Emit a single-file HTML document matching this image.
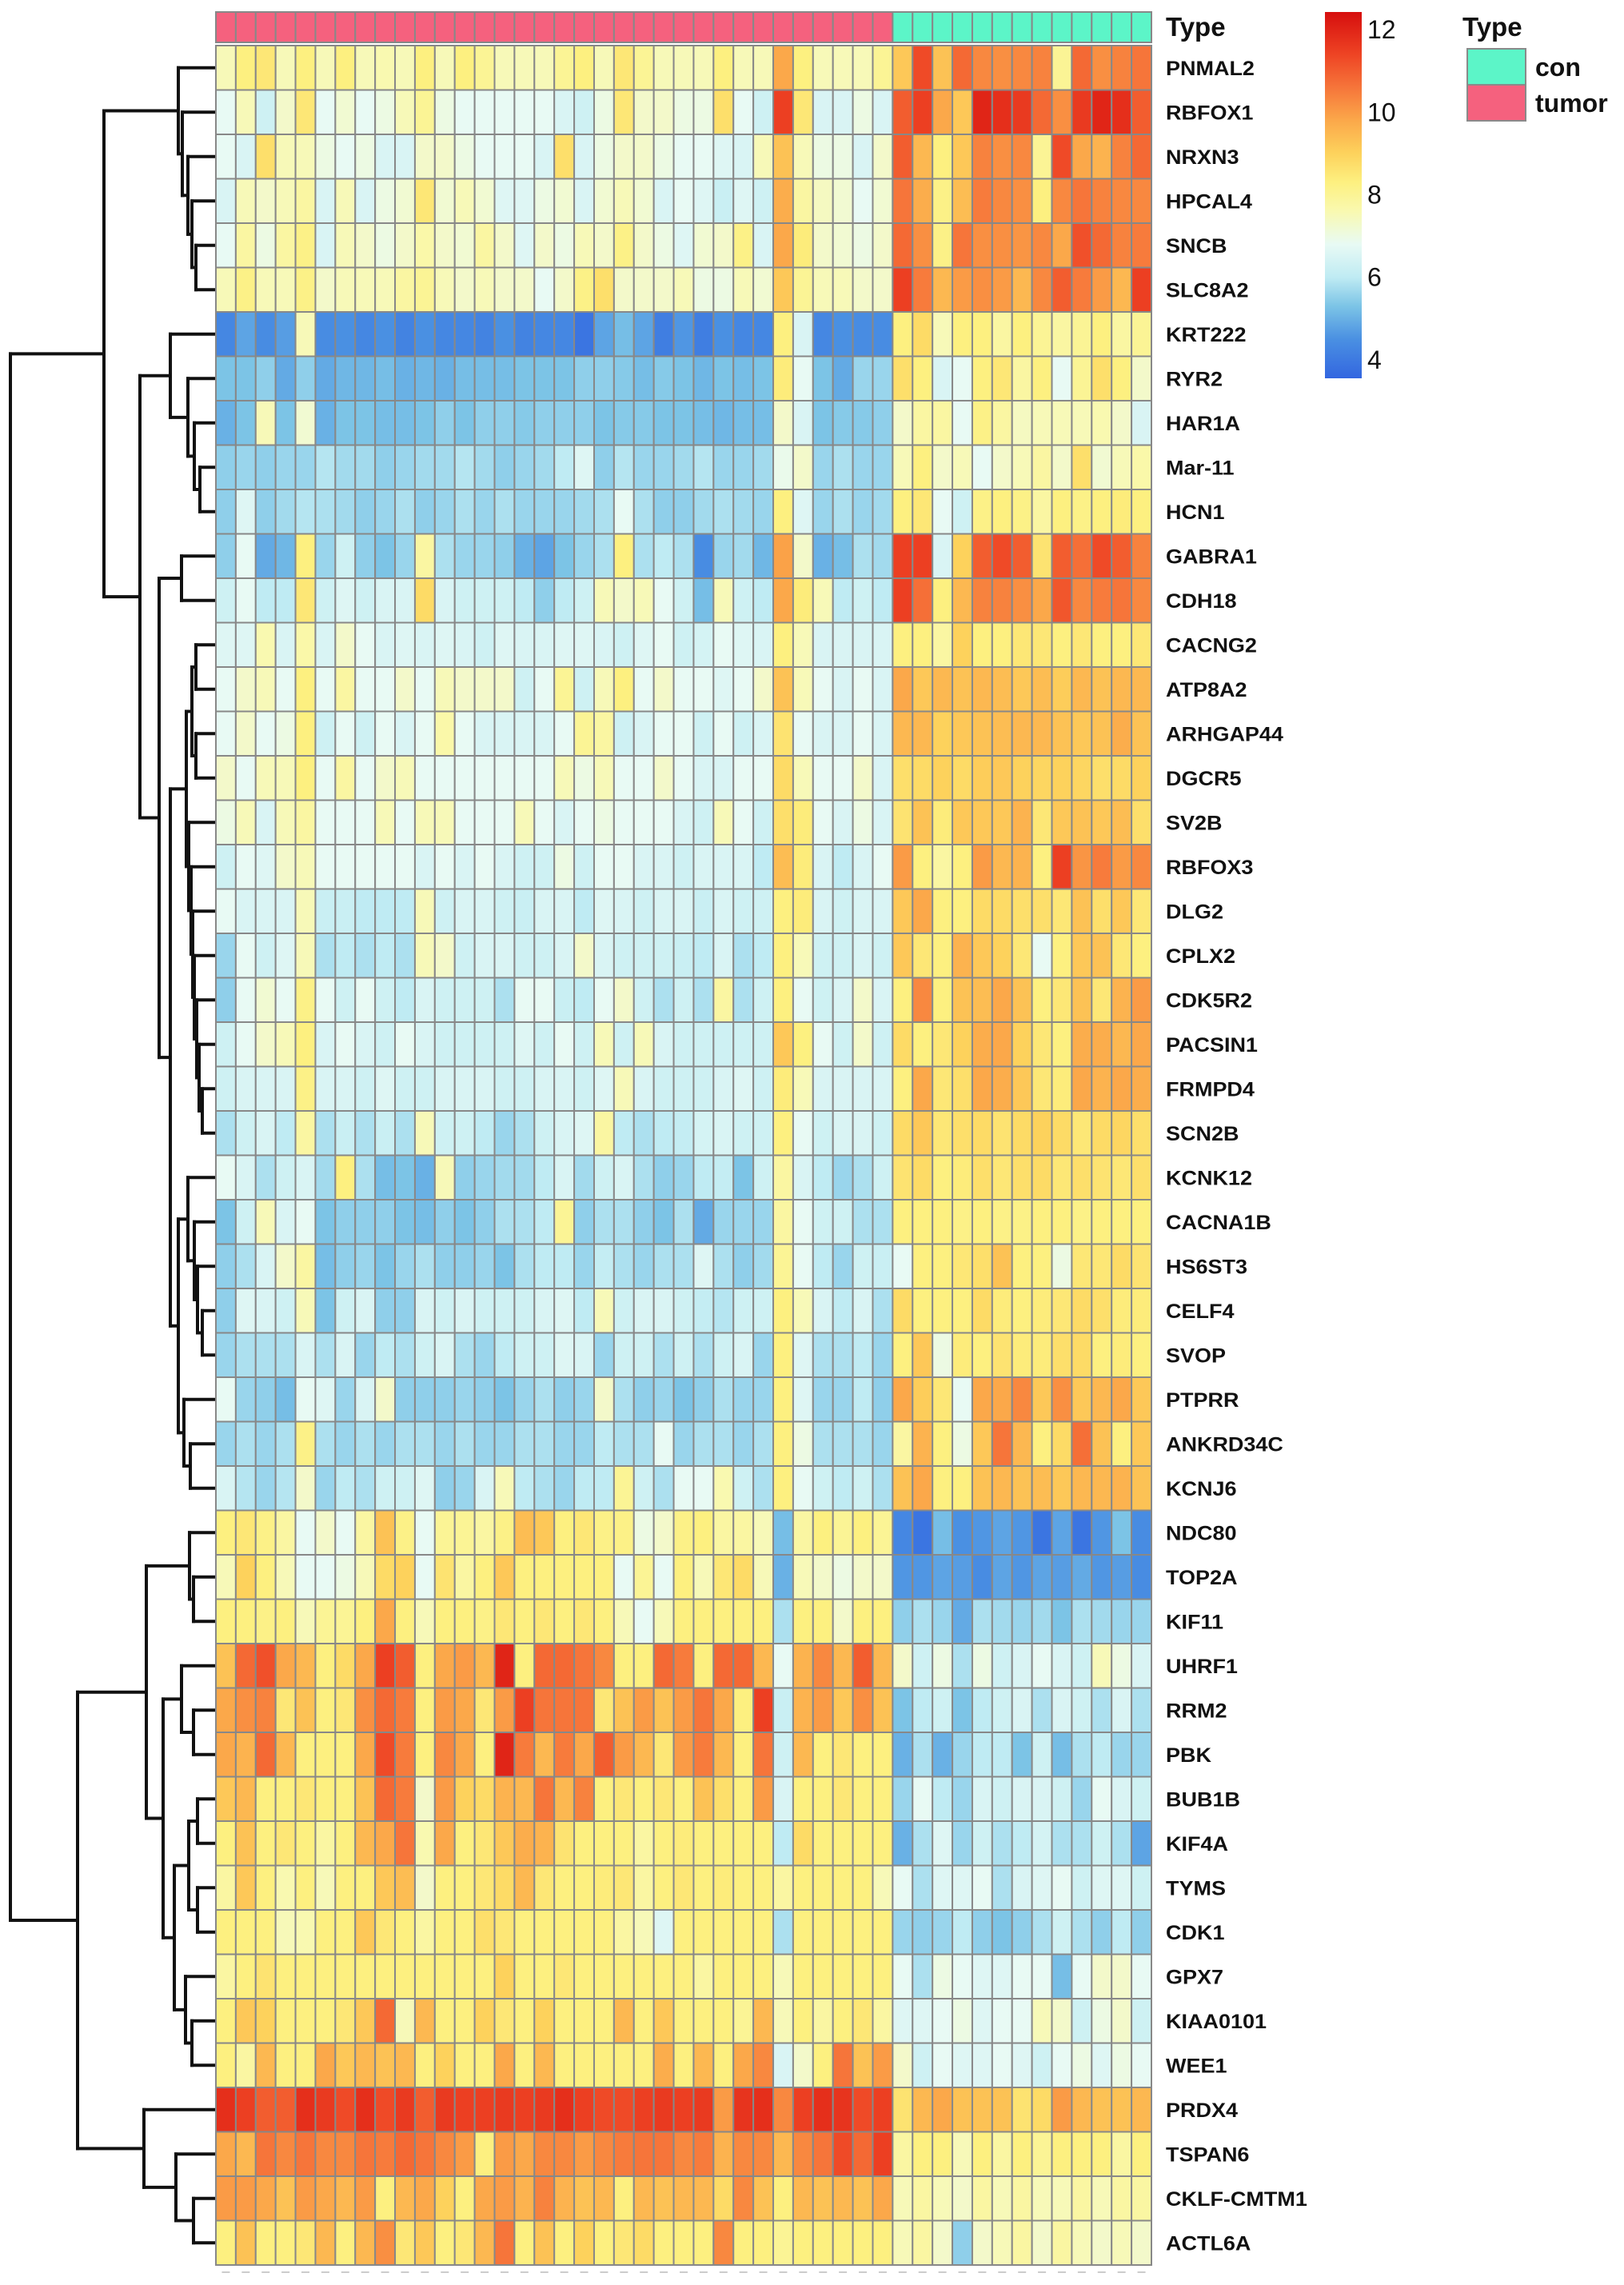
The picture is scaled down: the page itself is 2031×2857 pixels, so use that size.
<!DOCTYPE html>
<html><head><meta charset="utf-8">
<style>
html,body{margin:0;padding:0;background:#fff;}
svg{display:block;}
text{font-family:"Liberation Sans",Arial,sans-serif;}
</style></head>
<body>
<svg id="chart" width="2031" height="2857" viewBox="0 0 2031 2857" xmlns="http://www.w3.org/2000/svg">
<g id="dendro"></g>
<g id="anno"></g>
<g id="cells"></g>
<g id="labels"></g>
<g id="colticks"></g>
<text x="1458" y="45" font-size="33" font-weight="bold" fill="#111">Type</text>
<defs>
<linearGradient id="cbgrad" x1="0" y1="1" x2="0" y2="0"></linearGradient>
</defs>
<rect x="1657" y="15" width="46" height="458" fill="url(#cbgrad)"/>
<g id="cbticks"></g>
<g>
<text x="1829" y="45" font-size="33" font-weight="bold" fill="#111">Type</text>
<rect x="1835" y="61" width="73" height="45" fill="#5CF5C8" stroke="#8a8a8a" stroke-width="2"/>
<rect x="1835" y="106" width="73" height="45" fill="#F5617E" stroke="#8a8a8a" stroke-width="2"/>
<text x="1920" y="95" font-size="32" font-weight="bold" fill="#111">con</text>
<text x="1920" y="140" font-size="32" font-weight="bold" fill="#111">tumor</text>
</g>
</svg>
<script>
const genes = ["PNMAL2","RBFOX1","NRXN3","HPCAL4","SNCB","SLC8A2","KRT222","RYR2","HAR1A","Mar-11","HCN1","GABRA1","CDH18","CACNG2","ATP8A2","ARHGAP44","DGCR5","SV2B","RBFOX3","DLG2","CPLX2","CDK5R2","PACSIN1","FRMPD4","SCN2B","KCNK12","CACNA1B","HS6ST3","CELF4","SVOP","PTPRR","ANKRD34C","KCNJ6","NDC80","TOP2A","KIF11","UHRF1","RRM2","PBK","BUB1B","KIF4A","TYMS","CDK1","GPX7","KIAA0101","WEE1","PRDX4","TSPAN6","CKLF-CMTM1","ACTL6A"];
const sampleTypes = ["tumor","tumor","tumor","tumor","tumor","tumor","tumor","tumor","tumor","tumor","tumor","tumor","tumor","tumor","tumor","tumor","tumor","tumor","tumor","tumor","tumor","tumor","tumor","tumor","tumor","tumor","tumor","tumor","tumor","tumor","tumor","tumor","tumor","tumor","con","con","con","con","con","con","con","con","con","con","con","con","con"];
const colorTicks = [4,6,8,10,12];
const exprTumor = [
[7.5,8.3,8.5,7.5,8.3,7.5,8.3,7.5,7.6,7.5,8.3,7.5,8.3,8,7.5,7.5,7.5,8,8.3,7.5,8.5,8,7.5,7.5,7.5,8.3,7.5,7.5,9.8,8.3,7.5,7.5,7.5,8],
[6.8,7.5,6.3,7.3,8.5,6.8,7.2,6.8,7,7.5,8,7,6.8,6.8,6.8,6.8,6.8,6.5,6.3,7,8.5,7.3,7.3,7,7,8.7,6.8,6.3,11.5,8.5,6.5,6.5,7,6.5],
[6.8,6.5,8.7,7.5,7.5,7,6.8,7,6.5,6.5,7.3,7.3,7,6.8,6.8,6.8,6.5,8.7,6.5,7,7.3,7.3,7,6.8,6.8,6.6,6.5,7.5,9.3,7.5,7,7,6.5,7.3],
[6.5,7.5,7.3,7.5,7.8,6.5,7.5,6.5,7,7.2,8.5,7.2,7.5,7.2,6.6,6.6,7,7.2,6.5,7.2,7.5,7.2,6.5,6.8,6.6,6.2,6.6,6.3,9.7,7.8,7.4,7.2,6.8,7.2],
[6.8,7.8,7,7.8,8.2,6.5,7.5,7.3,7,7.3,7.7,7.3,7.2,7.8,7.3,6.6,7.3,7,7.5,7.3,8.2,7.3,7,6.6,7.2,7.3,8.2,6.5,9.8,8.4,7.3,7.2,7,7.3],
[7.5,8.2,7.5,7.5,8.2,7.3,7.5,7.5,7.5,7.8,8,7.5,7.3,7.5,7.3,7.3,6.8,7.3,8.2,8.7,7.3,7.3,7.3,7.5,7,7,7.5,7.2,9.2,8,7.5,7.5,7.3,7.3],
[4.3,4.8,4.4,4.7,7.5,4.4,4.5,4.3,4.5,4.2,4.5,4.3,4.3,4.2,4.5,4.2,4.3,4.3,3.9,4.8,5.2,4.8,4.1,4.6,4.1,4.5,4.3,4.3,8.3,6.5,4.3,4.5,4.4,4.4],
[5.3,5.3,5.5,4.9,5.5,4.9,5.1,5.1,5.2,5,5.1,5,5.2,5.2,5.2,5.3,5.3,5.3,5.5,5.5,5.4,5.2,5.4,5.3,5.1,5.3,5.2,5.3,8.4,6.8,5.3,4.9,5.6,5.6],
[5,5.3,7.5,5.3,7.2,5,5.3,5.3,5.2,5.2,5.3,5.5,5.3,5.5,5.5,5.4,5.5,5.5,5.5,5.3,5.4,5.4,5.3,5.3,5.2,5.1,5.2,5.2,7.3,6.5,5.3,5.4,5.4,5.5],
[5.5,5.6,5.5,5.6,5.6,5.9,5.7,5.7,5.5,5.6,5.7,5.7,5.9,5.7,5.5,5.6,5.7,6,6.6,5.5,5.9,5.6,5.6,5.7,5.9,5.6,5.6,5.7,6.9,7.3,5.6,5.8,5.6,5.6],
[5.5,6.6,5.5,5.7,5.9,5.8,5.7,5.5,5.6,5.8,5.5,5.6,5.8,5.6,5.8,5.6,5.6,5.6,5.7,5.8,6.8,5.8,5.5,5.5,5.7,5.8,5.7,5.6,8.3,6.6,5.6,5.8,5.6,5.7],
[5.5,6.8,4.9,5.1,8.3,5.6,6.3,5.5,5.3,5.6,7.8,5.8,5.6,5.6,5.5,5,4.8,5.3,5.6,5.8,8.3,5.8,6,5.8,4.4,5.6,5.7,5.1,9.9,7.3,5,5.2,5.8,5.7],
[6.3,6.8,6,6,8.5,6.3,6.6,6.3,6.5,6.5,8.8,6.5,6.3,6.3,6.3,6,5.5,6,6.3,7.5,7.3,7.5,6.8,6.3,5.2,7.5,6.3,6,9.8,8.4,7.5,6,6.3,6],
[6.6,6.6,7.6,6.5,7.7,6.5,7.3,6.8,6.5,6.6,6.5,6.6,6.5,6.3,6.6,6.5,6.5,6.6,6.6,6.5,6.3,6.6,6.8,6.3,6.4,6.8,6.6,6.5,8.3,7.5,6.5,6.5,6.5,6.5],
[6.8,7.3,7.5,6.8,8.3,6.8,7.8,6.8,6.8,7.3,6.8,7.5,7.3,7.3,7.3,6.3,6.8,8,6.3,7.5,8.3,6.8,7.3,6.8,6.8,6.6,6.8,7.3,9.3,7.5,6.8,6.5,6.8,6.5],
[6.8,7.3,6.8,7,8.3,6.3,6.8,6.3,6.8,6.5,6.8,7.7,6.8,6.5,6.5,6.5,6.5,6.8,8,7.8,6.3,6.5,6.8,6.8,6.3,6.8,6.3,6.5,8.6,6.8,6.5,6.5,6.8,6.5],
[7.3,6.8,7.5,7.5,8.3,6.8,7.8,6.8,7.3,7.5,6.8,6.8,6.8,6.8,6.8,6.8,6.8,7.5,7,7.5,6.8,6.8,7.3,6.8,6.5,6.5,6.8,6.8,8.8,7.5,6.8,6.8,7.3,6.5],
[7,7.5,6.5,7.5,7.8,6.8,6.8,6.8,7.5,6.8,7.5,7.5,6.8,6.8,6.8,7.5,6.8,6.5,6.8,7,6.8,6.8,6.8,6.5,6.3,7.5,6.8,6.3,8.7,8.4,6.8,6.5,7,6.5],
[6.3,6.8,6.6,7.3,7.5,6.8,6.8,6.8,6.8,6.8,6.5,6.8,6.5,6.8,6.5,6.3,6.3,7,6.3,6.8,6.8,6.5,6.5,6.3,6.5,6.5,6.5,6,9.4,8.4,6.5,6,6.5,6.8],
[6.8,6.5,6.5,6.5,7.5,6.2,6.2,6,6,6,7.5,6.3,6.5,6.5,6.3,6.2,6.5,6.5,6,6.6,6.5,6.3,6.5,6.5,6.2,6.5,6.3,6.3,8.3,8.4,6.5,6.3,6.5,6.5],
[5.6,6.8,6.3,6.6,7.5,5.8,6,5.8,6,5.8,7.5,7.3,6.3,6.5,6.5,6.3,6.3,6.5,7.3,6.5,6.3,6.3,6.3,6.2,6,6.5,5.8,6,8.3,7.5,6.3,6.3,6.5,6.3],
[5.5,6.8,7.2,6.8,8.2,6.8,6.3,6.8,6.3,6,6.5,6.3,6.3,6.3,5.8,6.8,6.8,6.2,6,6.8,7.3,6.3,5.8,6.3,5.8,7.8,5.8,6.3,8.3,6.8,6.3,6.5,7.3,6.5],
[6.3,6.8,7.3,7.5,8.3,6.5,6.8,6.5,6.3,6.8,6.5,6.3,6.3,6.3,6.3,6.6,6.3,6.8,6.3,7.5,6.3,7.5,6.5,6.3,6.3,6.3,6.3,6.3,9.2,8.3,6.8,6.3,7.3,6.3],
[6.3,6.5,6.5,6.5,8.2,6.5,6.5,6.3,6.6,6.3,6.3,6.5,6.5,6.5,6.3,6.3,6.5,6.5,6.3,6.6,7.5,6.5,6.3,6.3,6.3,6.5,6.6,6.3,8.4,7.5,6.5,6.5,6.5,6.5],
[5.8,6.3,6.5,6,7.8,5.8,6.2,5.8,6.2,5.8,7.5,6.3,6.3,6,5.6,5.8,6.3,6.5,6.6,7.8,6,5.8,6,6.1,6.4,6.5,6.3,6.3,8.3,6.8,6.3,6.5,6.5,6.3],
[6.8,6.5,5.8,6.3,6.5,5.7,8.3,5.8,5.2,5.3,5,7.5,5.5,5.6,5.7,5.7,6,6.5,5.7,6.3,6.5,5.8,5.5,5.6,6,6.1,5.3,6.3,7.8,6.5,6,5.6,5.8,6.3],
[5.3,6.3,7.5,6.5,6.8,5.3,5.5,5.5,5.5,5.3,5.2,5.5,5.3,5.5,5.8,5.8,6,8,5.5,5.8,5.8,5.5,5.3,5.8,4.9,5.6,5.6,5.6,7.8,6.8,6.3,6.3,5.8,5.8],
[5.5,5.8,6.5,7.3,7.8,5.2,5.5,5.6,5.3,5.6,5.8,5.5,5.5,5.6,5.3,5.8,6,6,5.6,6.1,5.8,5.6,5.8,5.8,6.6,5.8,5.5,5.7,8,6.8,6,5.6,6.3,6.2],
[5.5,6.6,6.5,6.3,7.5,5.3,6.3,6.5,5.5,5.5,6.5,6.3,6.5,6.3,6.3,6.3,6.5,6.6,6,7.5,6.3,6.5,6.5,6.3,6.1,5.9,6.3,6.3,8.3,7.5,6.5,6,6.5,5.8],
[5.6,5.8,5.8,5.8,6.5,5.8,6.5,5.6,6,5.8,6.3,6.5,5.8,5.6,6,6.3,6.3,6.6,6.5,5.6,6.3,6.3,5.8,6.3,5.8,6.3,6.5,5.6,8.3,6.6,5.8,5.8,6,5.6],
[6.8,5.6,5.5,5.2,6.8,6.6,5.6,6.5,7.3,5.5,5.5,5.5,5.6,5.5,5.3,5.6,5.8,5.5,5.6,7.3,5.8,5.5,5.6,5.3,5.5,5.8,5.6,5.6,8.3,6.6,5.6,5.6,6,5.5],
[5.6,5.8,5.6,5.8,8.2,5.8,5.6,5.8,5.6,5.8,5.8,5.6,5.8,5.6,5.6,5.8,5.8,5.6,5.6,6,5.8,5.8,6.8,5.6,5.8,5.8,5.6,5.8,8.3,7,5.8,5.8,5.8,5.6],
[6.5,5.9,5.6,5.9,7.3,5.6,6,5.8,6.3,6.3,6.6,5.5,5.6,6.5,7.5,6,5.8,5.6,6,6,8,6.3,5.8,6.8,6.8,7.6,6.3,5.8,8.3,6.8,6.3,6,6.3,5.8],
[8.3,8.5,8.2,7.8,6.8,7.3,6.8,7.8,9.3,8.2,6.8,8,8,7.8,8.2,9.4,9.2,8.3,8.5,8.2,8.2,7,7.3,8.2,8.3,7.8,7.8,7.5,5.2,7.8,8.3,8,8.3,8],
[7.5,9,8.3,7.5,6.8,6.8,7,7.5,8.8,9,6.8,8.6,7.8,8.3,9.2,8.3,8.3,8.3,8.3,8.3,6.8,8,6.8,8.3,7.5,8.5,8.8,7.5,5,7.5,7.3,7,7.3,7.3],
[8.3,8.3,8.2,8.3,7.5,8,8,8.3,9.8,8.3,7.5,8.3,8.3,8.2,8.5,8.3,8.5,8.3,8.5,8.3,7.5,6.8,7.5,8.3,8.3,8.3,8.3,8.3,5.8,8.3,8.3,7.3,8.3,8.3],
[9.3,10.8,11.2,9.8,9.5,8.3,8.8,9.8,11.5,11,8.3,9.8,10,9.5,12,8.3,10.8,10.8,10.6,10.3,8.3,8.3,10.8,10.5,8.3,10.8,10.8,9.5,6.8,9.6,10.3,9.5,11,9.5],
[9.8,10.2,10.4,8.5,9.3,8.3,8.5,10.2,10.8,10.5,8.3,10,9.8,8.5,10,11.5,10.6,10.6,10.6,8.5,9.3,10,9.3,10,10.6,9.8,8.3,11.5,6.2,9.6,10,9.2,10.2,9.3],
[9.8,9.6,10.8,9.5,8.3,8.3,8.3,9.8,11.3,10.5,8.3,10.3,9.8,8.3,12,10.5,9.5,10.5,9.8,11,10,9.5,8.5,10,10.5,9.5,8.3,10.6,6.3,9.5,8.3,8.5,8.3,8.3],
[9.2,9.5,8.3,8.3,8.5,8.3,8.3,9.3,10.8,10.5,7.3,10,9,8.8,9.6,9.5,10.6,9.5,10.4,8.3,8.5,8.3,8.5,8.3,9.3,8.7,8.3,10,6.5,8.3,8.3,8.5,8.3,8.3],
[8.3,9.3,8.3,8.5,8.3,7.8,8.3,9.5,9.8,10.6,7.6,9.8,8.3,8.5,9.2,9.7,9.6,8.6,8.3,8.3,8.3,7.8,8.3,8.4,8.3,8.3,8.3,8.3,6,8.8,8.3,8.3,8.3,8.3],
[7.8,9.2,8.3,7.6,8.3,7.5,8.3,8.3,9.2,9.4,7.3,8.3,8.3,8.5,8.8,9.5,8.5,8.3,8.3,8.4,8.5,7.8,8.3,8.5,8.3,8.4,8.3,8.3,7.8,8.3,8.3,8.3,8.3,7.5],
[8.3,8.3,8.3,7.5,7.6,8.3,8.3,9.2,8.5,8.3,7.8,8.3,8.3,8.7,8.5,8.3,8.3,8.3,8.3,8.3,7.8,7.5,6.6,8.3,8.3,8.3,8.3,8.3,5.8,8.3,8.3,8.3,8.3,8.3],
[7.8,8.3,8.6,8.3,8.3,8.3,8.3,8.3,8.3,8.3,8.3,8.3,8.3,8.3,9,8.3,8.3,8.5,8.3,8.3,8.3,8.3,8.3,8.3,7.8,8.3,8.3,8.3,7.5,8.3,8.3,8.3,8.3,8.3],
[8.3,9.2,9,8.3,8.3,8.3,8.5,9.2,10.8,7.5,9.5,8.3,8.3,9,8.5,8.3,9,8.3,8.3,8.3,9.5,8.3,9.2,8.3,8.3,8.3,8,9.5,7.5,8.3,7.8,8.3,8.5,7.8],
[8.3,7.8,9.5,8.3,8.3,9.8,9.2,9.5,9.3,9.5,8.3,9,8.3,8.3,9.8,8.3,9.5,8.3,8.3,8.3,8.3,8.3,9.7,8.3,9.5,8.3,9.8,10.3,6.5,7.3,8.3,10.6,9.3,10],
[11.8,11.5,11,11,11.8,11.6,11.3,11.8,11.3,11.6,11,11.6,11.5,11.5,11.6,11.5,11.6,11.8,11.5,11.3,11.3,11.5,11.6,11.5,11.6,10,11.7,11.8,10.3,11.5,11.8,11.7,11.3,11.5],
[9.8,9.5,10.6,10.3,10.6,10.3,10.3,10.6,10.5,10.8,10.6,10.3,10,8.3,10,9.8,10.3,10.3,10,10.3,10.5,10.6,10.6,10.3,10.5,9.6,10.3,10.3,9.5,10.3,10.6,11.3,10.8,11.5],
[10,10,9.8,9.3,10,9.8,9.5,10,8.3,9.5,9.8,9,8.3,9.8,10,9.6,10.4,9.6,9.3,9.5,8.3,9.5,9.3,9.5,9.5,8.8,10.3,9.3,8.3,9.5,9.3,9.5,9.3,9.8],
[8.3,9.3,8.3,8.3,8.5,9.5,8.3,9.5,10.2,8.5,9.2,8.3,8.5,9.5,10.6,8.3,9.3,8.3,9,8.3,8.5,8.8,8.3,8.3,8.3,10.3,8.3,8.3,8,8.3,8.3,8.3,8.3,8.3]
];
const exprCon = [
[9.2,11.3,9.3,10.8,10.3,10.2,10.3,10.4,8,10.8,10.2,10.4,10.6],
[11,11.5,9.8,9.2,12,11.8,11.6,10.8,10.2,11.6,12,11.8,11],
[11,9.5,8.3,9.2,10.4,10.2,10.3,8,11.3,9.8,9.6,10.4,10.8],
[10.6,9.7,8.2,9.4,10.5,10.3,10.2,8.3,10.3,10.6,10.4,10.3,10.3],
[10.8,10.2,8.2,10.6,10.2,10.2,10.1,10.3,9.8,11.2,10.8,10.4,10.5],
[11.5,10.5,9.5,10,10.2,10,9.5,10.3,11,10.5,10,9.5,11.5],
[8.3,8.8,7.5,8.3,8.3,7.8,8.3,8,7.8,8,8.3,7.8,8],
[8.7,8.3,6.5,6.8,8.3,8.5,7.8,8.3,6.8,8,8.7,8.3,7.3],
[7.3,7.8,7.8,6.8,8.2,7.8,7.4,7.5,7.5,7.5,7.6,7.3,6.5],
[7.5,8.3,7.3,7.5,6.8,7.3,7.5,7.8,7.3,8.7,7.2,7.5,7.7],
[8.3,8.5,6.8,6.3,8.2,8.3,8.2,7.8,8.3,8.2,8.3,8.4,8.3],
[11.5,11.5,6.5,9,11,11.3,11,8.6,11,10.7,11.3,11,10.4],
[11.5,10.7,8.3,9.5,10.4,10.4,10.2,9.8,11.1,10.3,10.5,10.6,10.3],
[8.3,8.3,7.8,9,8.3,8.3,8.5,8.5,8.3,8.5,8.3,8.3,8.5],
[9.8,9.2,9.5,9.3,9.5,9.4,9.2,9.4,9.1,9.5,9.3,9.5,9.5],
[9.5,9.5,9,9.2,9.3,9.4,9.5,9.5,9.3,9.2,9.3,9.7,9.3],
[8.7,8.8,9,8.8,9.1,9.2,9,8.9,9,8.9,8.7,8.8,9],
[8.6,9.3,8.4,9.2,9.2,9.2,9.6,8.5,9.2,9.3,9.2,9.4,8.7],
[10,8.3,7.8,8.3,10,9.5,9.6,8.3,11.5,10.1,10.5,10,10.3],
[9.2,9.8,8.3,8.3,8.8,8.8,8.7,8.7,8.5,9.3,8.7,9.2,8.5],
[9.2,8.5,8.3,9.6,9.2,9,8.5,6.8,8.3,9.2,9.3,8.5,8.3],
[8.3,10.3,8.3,9.3,9.4,9.8,9.3,8.3,8.5,9.3,8.5,9.6,10],
[8.8,8.3,8.5,9,9.7,9.8,9,8.5,8.3,9.7,9.7,9.5,9.8],
[8.3,9.8,8.5,8.7,9.8,9.7,9.2,8.5,8.4,9.8,9.6,9.8,9.7],
[8.8,9.2,8.5,8.7,8.8,8.6,8.8,9,8.8,8.5,8.8,8.9,8.7],
[8.6,8.8,8.3,8.4,8.7,8.5,8.7,8.8,8.5,8.7,8.6,8.5,8.7],
[8.3,8.3,8.3,8.2,8.3,8.2,8.2,8.3,8.3,8.2,8.3,8.3,8.3],
[6.8,8.3,8.3,8.5,8.7,9.3,8.3,8.3,7,8.5,8.5,8.8,8.6],
[8.8,8.3,8.3,8.3,8.8,8.4,8.3,8.4,8.5,8.8,8.7,8.4,8.4],
[8.3,9.2,7,8.4,8.3,8.6,8.4,8.4,8.7,8.8,8.3,8.4,8.3],
[9.8,9.1,8.5,6.8,9.8,9.8,10.3,9.2,10.2,9.2,9.5,9.8,9.2],
[7.8,9.6,8.3,7,9.2,10.6,9.5,8.3,8.8,10.7,9.3,8.3,9.2],
[9.3,9.8,8.3,8.3,9.3,9.5,9.3,9.4,9.2,9.5,9.5,9.6,9.3],
[4.3,3.9,5.2,4.5,4.6,4.8,4.6,3.9,4.8,3.9,4.6,5.3,4.4],
[4.6,4.6,4.8,4.7,4.4,4.8,4.6,4.8,4.7,4.9,4.6,4.7,4.4],
[5.5,5.8,5.6,4.9,5.8,5.7,5.6,5.7,5.3,5.8,5.7,5.6,5.6],
[7.3,6.3,7,5.8,7,6.3,6.5,6.8,6.5,6.3,7.5,7,6.5],
[5.3,6,6.3,5.3,6,6.3,6.5,5.8,6.5,6.3,5.8,6.5,5.8],
[5,5.8,5,5.6,6,6,5.3,6.3,5.2,5.8,6,5.6,5.6],
[5.6,6.8,6,5.6,6.5,6.3,6.5,6.5,6.3,5.6,6.8,6.5,6.3],
[5,5.8,6.6,5.6,6.3,5.8,6,6.4,5.8,5.8,6.3,5.8,4.8],
[6.8,5.8,6.6,6.6,6.8,5.8,6.5,6.6,6.8,6.3,6.6,6.6,6.3],
[5.6,5.5,5.6,6,5.5,5.3,5.5,5.8,6.3,5.8,5.5,6,5.5],
[6.8,5.8,7,6.8,6.6,6.6,6.8,6.8,5.2,6.8,7.3,7.3,6.8],
[6.6,6.6,6.8,7,6.6,6.8,6.8,7.5,7.3,6.3,7,7.3,6.3],
[7.3,6.3,6.8,6.6,6.6,6.8,6.6,6.3,6.8,7,6.6,7,6.8],
[8.6,9.5,9.8,9.3,9.3,9.3,8.6,8.8,10,9.5,9.3,9.3,9.5],
[7.8,8.3,8.3,7.5,8.3,7.8,8.3,8,8.3,8.3,8.3,7.8,8.3],
[7.5,7.8,7.5,7.3,7.8,7.5,7.8,7.5,7.5,7.8,7.5,7.8,7.8],
[7.5,7.8,7.3,5.5,7.3,7.5,7.8,7.3,7.8,7.5,7.3,7.5,7.3]
];
/* dendrogram merges: [left, right, height]; leaves are row indices, nodes "n#" */
const dendroMerges = [
["4","5",245],["3","n0",240],["2","n1",235],["1","n2",228],["0","n3",223],
["9","10",250],["8","n5",243],["7","n6",235],["6","n7",213],
["11","12",227],
["13","14",245],["15","16",245],["n10","n11",240],
["23","24",253],["22","n13",249],["21","n14",246],["20","n15",243],["19","n16",241],["18","n17",239],["17","n18",236],
["n12","n19",233],
["28","29",253],["27","n21",247],["26","n22",243],["25","n23",235],
["31","32",238],["30","n25",230],["n24","n26",223],
["n20","n27",213],["n9","n28",199],["n8","n29",175],["n4","n30",130],
["34","35",242],["33","n32",237],
["37","38",242],["36","n34",227],
["39","40",247],["41","42",247],["n36","n37",236],
["44","45",240],["43","n39",232],["n38","n40",218],
["n35","n41",204],["n33","n42",183],
["48","49",242],["47","n44",220],["46","n45",180],
["n43","n46",97],
["n31","n47",13]
];

const NS = "http://www.w3.org/2000/svg";
const X0 = 270, X1 = 1440, Y0 = 57, Y1 = 2832;
const nCols = sampleTypes.length, nRows = genes.length;
const cw = (X1 - X0) / nCols, rh = (Y1 - Y0) / nRows;
const xCol = i => X0 + i * cw;
const yRow = r => Y0 + r * rh;

const vMin = 3.55, vMax = 12.43;
const stops = [[3.55,[51,102,224]],[4.5,[74,144,226]],[5.3,[124,196,230]],[6,[191,235,243]],[6.8,[232,250,244]],[7.6,[249,249,176]],[8.3,[253,240,128]],[9,[253,210,92]],[9.8,[251,168,74]],[10.6,[246,117,58]],[11.4,[238,68,36]],[12.43,[214,14,14]]];
function colorOf(v){
  if (v <= stops[0][0]) return rgb(stops[0][1]);
  for (let i=1;i<stops.length;i++){
    if (v <= stops[i][0]){
      const [a,ca]=stops[i-1],[b,cb]=stops[i];
      const t=(v-a)/(b-a);
      return rgb(ca.map((c,k)=>c+(cb[k]-c)*t));
    }
  }
  return rgb(stops[stops.length-1][1]);
}
function rgb(c){return "rgb("+c.map(x=>Math.round(x)).join(",")+")";}

const cells = document.getElementById("cells");
for (let r=0;r<nRows;r++){
  const vals = exprTumor[r].concat(exprCon[r]);
  for (let c=0;c<vals.length && c<nCols;c++){
    const el = document.createElementNS(NS,"rect");
    el.setAttribute("x", xCol(c).toFixed(2));
    el.setAttribute("y", yRow(r).toFixed(2));
    el.setAttribute("width", cw.toFixed(2));
    el.setAttribute("height", rh.toFixed(2));
    el.setAttribute("fill", colorOf(vals[c]));
    el.setAttribute("stroke", "#888888");
    el.setAttribute("stroke-width", "2");
    
    
    cells.appendChild(el);
  }
}

const anno = document.getElementById("anno");
sampleTypes.forEach((t,c)=>{
  const el = document.createElementNS(NS,"rect");
  el.setAttribute("x", xCol(c).toFixed(2));
  el.setAttribute("y", 15);
  el.setAttribute("width", cw.toFixed(2));
  el.setAttribute("height", 38);
  el.setAttribute("fill", t==="tumor" ? "#F5617E" : "#5CF5C8");
  el.setAttribute("stroke", "#888888");
  el.setAttribute("stroke-width", "2");
  
  
  anno.appendChild(el);
});

const labels = document.getElementById("labels");
genes.forEach((g,r)=>{
  const el = document.createElementNS(NS,"text");
  el.setAttribute("x", 0);
  el.setAttribute("y", 0);
  el.setAttribute("transform", "translate(1458," + (yRow(r)+rh/2+9).toFixed(1) + ") scale(1.08,1)");
  el.setAttribute("font-size", "25");
  el.setAttribute("font-weight", "bold");
  el.setAttribute("fill", "#111");
  el.textContent = g;
  
  
  labels.appendChild(el);
});

const colticks = document.getElementById("colticks");
for (let c=0;c<nCols;c++){
  const el = document.createElementNS(NS,"rect");
  el.setAttribute("x", (xCol(c)+cw/2-5).toFixed(2));
  el.setAttribute("y", 2840);
  el.setAttribute("width", 10);
  el.setAttribute("height", 2);
  el.setAttribute("fill", "#cccccc");
  
  
  colticks.appendChild(el);
}

/* colorbar */
const grad = document.getElementById("cbgrad");
stops.forEach(s=>{
  const st = document.createElementNS(NS,"stop");
  st.setAttribute("offset", ((s[0]-vMin)/(vMax-vMin)).toFixed(4));
  st.setAttribute("stop-color", rgb(s[1]));
  grad.appendChild(st);
});
const cbY = v => 473 - (v - vMin)/(vMax - vMin)*458;
const cbticks = document.getElementById("cbticks");
colorTicks.forEach(v=>{
  const el = document.createElementNS(NS,"text");
  el.setAttribute("x", 1710);
  el.setAttribute("y", (cbY(v)+11).toFixed(1));
  el.setAttribute("font-size", "32");
  el.setAttribute("fill", "#111");
  el.textContent = v;
  
  
  cbticks.appendChild(el);
});

/* dendrogram */
const dendro = document.getElementById("dendro");
const nodeY = {}, nodeX = {};
function pos(id){
  if (id[0]==="n"){ return [nodeX[id], nodeY[id]]; }
  const r = +id; return [X0, yRow(r)+rh/2];
}
function line(x1,y1,x2,y2){
  const el = document.createElementNS(NS,"line");
  el.setAttribute("x1",x1);el.setAttribute("y1",y1);
  el.setAttribute("x2",x2);el.setAttribute("y2",y2);
  el.setAttribute("stroke","#111");
  el.setAttribute("stroke-width","4");
  el.setAttribute("stroke-linecap","square");
  
  
  dendro.appendChild(el);
}
dendroMerges.forEach((m,i)=>{
  const [a,b,h] = m;
  const [xa,ya] = pos(a), [xb,yb] = pos(b);
  line(h,ya,xa,ya);
  line(h,yb,xb,yb);
  line(h,ya,h,yb);
  nodeX["n"+i] = h;
  nodeY["n"+i] = (ya+yb)/2;
});
</script>
</body></html>
